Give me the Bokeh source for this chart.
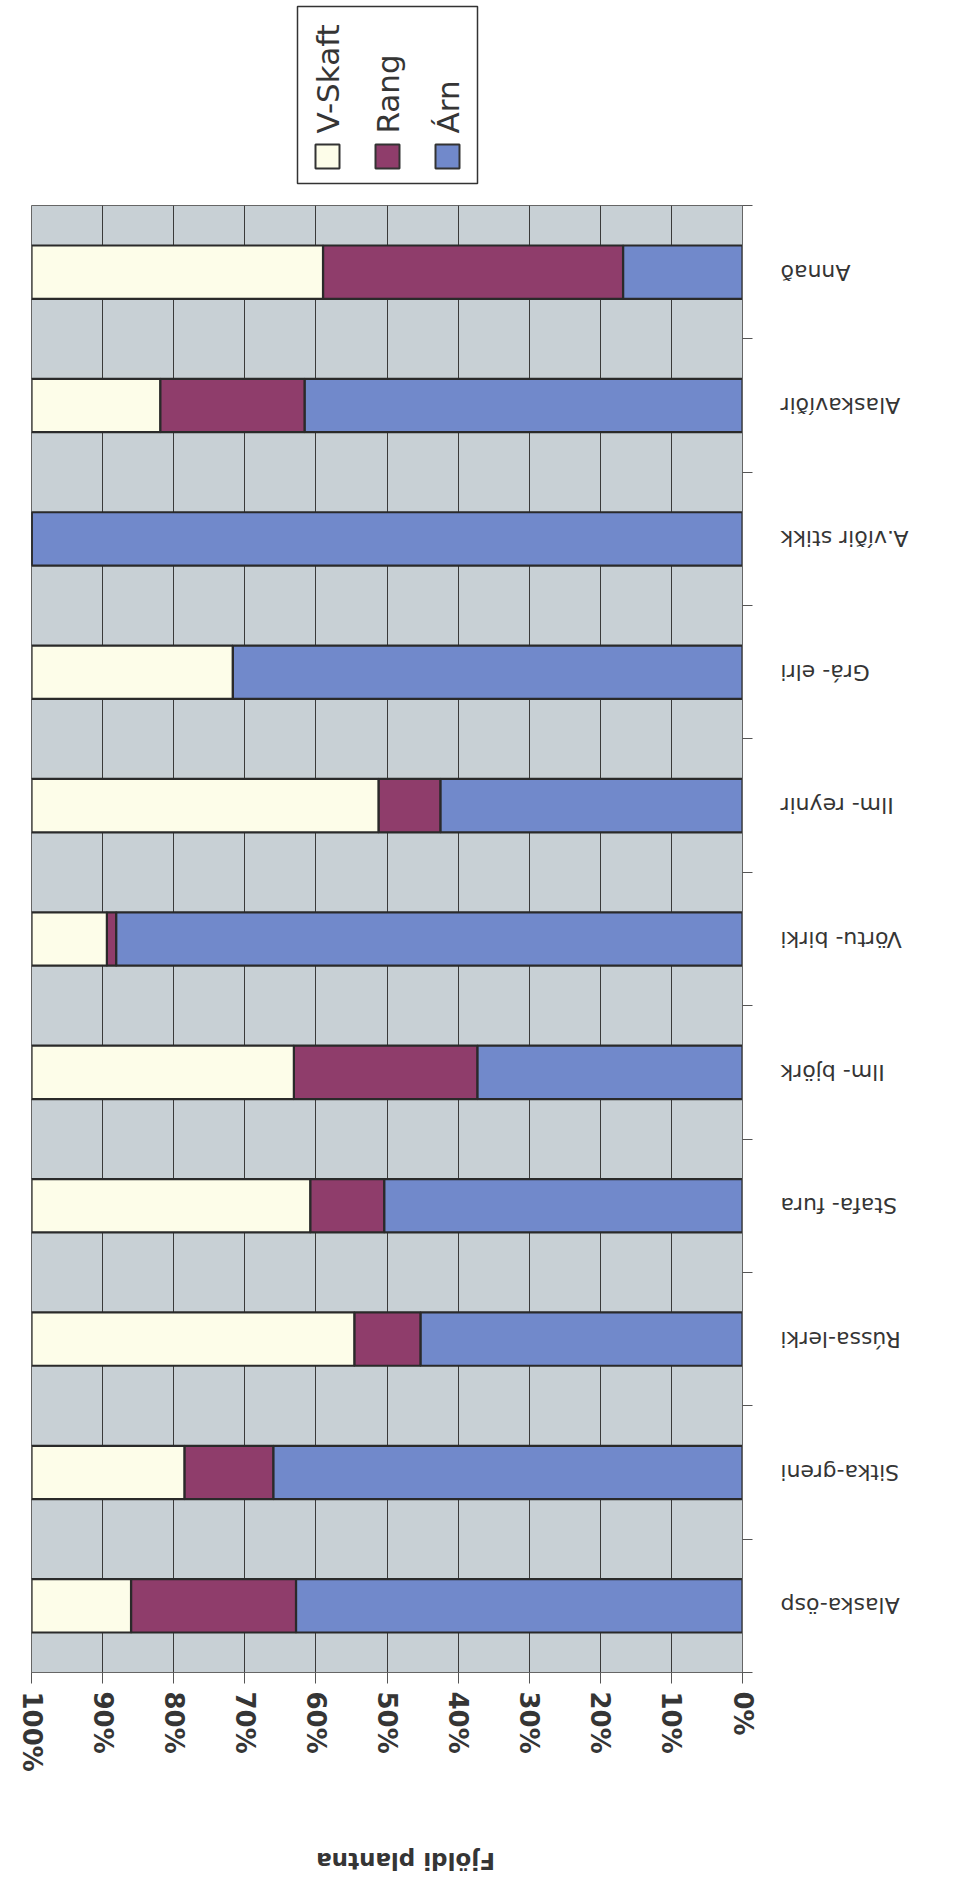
from math import pi
from bokeh.plotting import figure
from bokeh.models import (ColumnDataSource, Range1d, FixedTicker,
                          PrintfTickFormatter, CustomJSTickFormatter)
from bokeh.layouts import gridplot
from bokeh.core.properties import value
from bokeh.embed import file_html
from bokeh.resources import INLINE

# ---------------- data ----------------
categories = ["Alaska-ösp", "Sitka-greni", "Rússa-lerki", "Stafa- fura",
              "Ilm- björk", "Vörtu- birki", "Ilm- reynir", "Grá- elri",
              "A.víðir stikk", "Alaskavíðir", "Annað"]
arn = [62.8, 66.0, 45.3, 50.4, 37.3, 88.1, 42.5, 71.7, 100.0, 61.6, 16.8]
rang = [23.2, 12.5, 9.3, 10.4, 25.8, 1.3, 8.7, 0.0, 0.0, 20.3, 42.2]
vskaft = [14.0, 21.5, 45.4, 39.2, 36.9, 10.6, 48.8, 28.3, 0.0, 18.1, 41.0]

series_names = ["Árn", "Rang", "V-Skaft"]
series_colors = ["#7189cb", "#8f3d6b", "#fdfde9"]
pct_ticks = list(range(0, 101, 10))
axis_title = "Fjöldi plantna"

FONT = "DejaVu Sans"
TXT = "#353535"

n = len(categories)
slot = [i + 0.5 for i in range(n)]          # category slot centres (first at bottom)
src = ColumnDataSource(data={"cat": categories, "slot": slot,
                             "Árn": arn, "Rang": rang, "V-Skaft": vskaft})

# shared geometry: plot frame spans page x 31..742
BL, BR = 31, 20
W1 = 31 + 711 + 20           # width of the left column figures
TOP, BOT = 7, 126
H_MAIN = TOP + 1467 + BOT

# ---------------- legend (top) ----------------
LH = 198
lf = figure(width=W1, height=LH, x_range=Range1d(31, 742), y_range=Range1d(0, LH),
            output_backend="svg", toolbar_location=None,
            min_border_left=BL, min_border_right=BR, min_border_top=0, min_border_bottom=0,
            x_axis_location=None, y_axis_location=None)
lf.outline_line_color = None
lf.grid.visible = False
lf.quad(left=[297], right=[477], bottom=[LH - 183], top=[LH - 6],
        fill_color="white", line_color="#333333", line_width=1.5)
leg_names = list(reversed(series_names))
leg_colors = list(reversed(series_colors))
leg_x = [327, 387, 447]
lf.rect(x=leg_x, y=[LH - 156] * 3, width=24, height=24, width_units="screen",
        height_units="screen", fill_color=leg_colors, line_color="#333333", line_width=2)
lf.text(x=leg_x, y=[LH - 133] * 3, text=leg_names, angle=pi / 2, text_align="left",
        text_baseline="middle", text_font=value(FONT), text_font_size="31px",
        text_color=TXT)

# ---------------- main chart ----------------
p = figure(width=W1, height=H_MAIN, x_range=Range1d(100, 0),
           y_range=Range1d(0, n),
           output_backend="svg", toolbar_location=None,
           min_border_left=BL, min_border_right=BR, min_border_top=TOP,
           min_border_bottom=BOT, y_axis_location="right")
p.background_fill_color = "#c8d0d5"
p.border_fill_color = "white"
p.outline_line_color = "#666666"

p.hbar_stack(series_names, y="slot", height=0.4, color=series_colors,
             line_color="#2a2a2a", line_width=2.2, source=src)

for g in p.grid:
    if g.dimension == 0:
        g.ticker = FixedTicker(ticks=pct_ticks)
        g.grid_line_color = "#3a3a3a"
        g.grid_line_width = 1
    else:
        g.visible = False

xa = p.xaxis[0]
xa.ticker = FixedTicker(ticks=pct_ticks)
xa.formatter = PrintfTickFormatter(format="%d%%")
xa.major_label_orientation = "vertical"
xa.major_label_text_font = FONT
xa.major_label_text_font_style = "bold"
xa.major_label_text_font_size = "26px"
xa.major_label_text_color = TXT
xa.major_label_standoff = 8
xa.major_tick_out = 11
xa.major_tick_in = 0
xa.major_tick_line_color = "#555555"
xa.minor_tick_line_color = None
xa.axis_line_color = "#666666"

ya = p.yaxis[0]
ya.ticker = FixedTicker(ticks=list(range(n + 1)))
ya.formatter = CustomJSTickFormatter(code="return ''")
ya.major_tick_out = 10
ya.major_tick_in = 0
ya.minor_tick_line_color = None
ya.axis_line_color = "#666666"
ya.major_tick_line_color = "#555555"

# ---------------- category labels (right of the chart) ----------------
labf = figure(width=190, height=H_MAIN, x_range=Range1d(0, 190), y_range=p.y_range,
              output_backend="svg", toolbar_location=None,
              min_border_left=0, min_border_right=0, min_border_top=TOP,
              min_border_bottom=BOT, x_axis_location=None, y_axis_location=None)
labf.outline_line_color = None
labf.grid.visible = False
labf.text(x=18, y="slot", text="cat", source=src, angle=pi,
          text_align="right", text_baseline="middle", text_font=value(FONT),
          text_font_size="22px", text_color=TXT)

# ---------------- axis title (bottom) ----------------
TH = 80
tf = figure(width=W1, height=TH, x_range=Range1d(31, 742), y_range=Range1d(0, TH),
            output_backend="svg", toolbar_location=None,
            min_border_left=BL, min_border_right=BR, min_border_top=0, min_border_bottom=0,
            x_axis_location=None, y_axis_location=None)
tf.outline_line_color = None
tf.grid.visible = False
tf.text(x=[405], y=[TH - 62], text=[axis_title], angle=pi, text_align="center",
        text_baseline="middle", text_font=value(FONT), text_font_style="bold",
        text_font_size="23px", text_color=TXT)

layout = gridplot([[lf, None], [p, labf], [tf, None]], toolbar_location=None)
open("out.html", "w").write(file_html(layout, INLINE))
